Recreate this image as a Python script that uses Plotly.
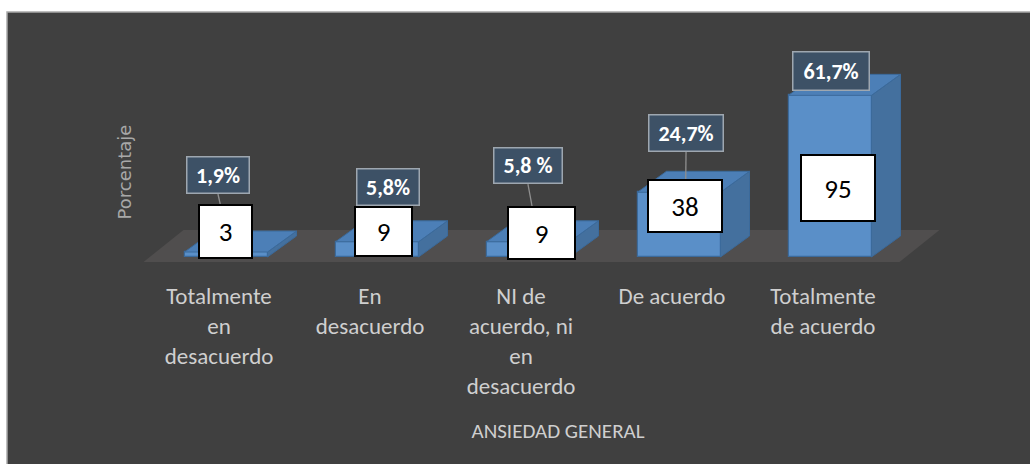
import plotly.graph_objects as go

# ---------------- data ----------------
categories = ["Totalmente<br>en<br>desacuerdo", "En<br>desacuerdo",
              "NI de<br>acuerdo, ni<br>en<br>desacuerdo", "De acuerdo",
              "Totalmente<br>de acuerdo"]
percent = [1.9, 5.8, 5.8, 24.7, 61.7]
percent_text = ["1,9%", "5,8%", "5,8 %", "24,7%", "61,7%"]
counts = [3, 9, 9, 38, 95]
x_title = "ANSIEDAD GENERAL"
y_title = "Porcentaje"

# ---------------- layout / style ----------------
W, H = 1030, 464
L, R, T, B = 140, 976, 70, 274           # plot area in pixels
CAT0_PX, CAT_STEP = 219.0, 151.0          # pixel of first category, spacing
BASE_PX, PX_PER_PCT = 257.0, 2.62         # pixel of 0 %, pixels per %
x_range = [(L - CAT0_PX) / CAT_STEP, (R - CAT0_PX) / CAT_STEP]
y_range = [(BASE_PX - B) / PX_PER_PCT, (BASE_PX - T) / PX_PER_PCT]
ux = 1.0 / CAT_STEP      # data units per pixel (x)
uy = 1.0 / PX_PER_PCT    # data units per pixel (y)

BAR_W = 83 * ux
BAR_SHIFT = 7 * ux
DEPTH_X, DEPTH_Y = 29 * ux, 21 * uy

FRONT, SIDE, TOP, EDGE = "#5a8fc8", "#44709e", "#4c7fb7", "#3b6a9b"
FLOOR = "#504e4e"
PANEL = "#404040"
FONT = "Calibri, Carlito, Lato, sans-serif"

# label placement (offsets in axis units) and box sizes (pixels)
count_dx = [0.043, 0.089, 0.136, 0.086, 0.099]
count_y = [9.73, 9.73, 9.16, 19.47, 26.34]
count_size = [(55, 55), (59, 51), (69, 54), (76, 54), (76, 68)]
pct_dx = [-0.007, 0.119, 0.046, 0.093, 0.053]
pct_y = [31.3, 26.72, 34.92, 47.33, 70.99]
pct_size = [(64, 38), (64, 38), (70, 37), (76, 38), (78, 40)]
leader = [True, False, True, True, False]

n = len(categories)
xs = list(range(n))
fig = go.Figure()

# front faces
fig.add_trace(go.Bar(
    x=xs, y=percent, width=BAR_W, offset=-BAR_W / 2 + BAR_SHIFT,
    marker=dict(color=FRONT, line=dict(color=EDGE, width=1.2)),
    hoverinfo="skip", showlegend=False))

# side and top faces
sx, sy, tx, ty = [], [], [], []
for i, v in enumerate(percent):
    xl = i + BAR_SHIFT - BAR_W / 2
    xr = i + BAR_SHIFT + BAR_W / 2
    sx += [xr, xr + DEPTH_X, xr + DEPTH_X, xr, xr, None]
    sy += [0, DEPTH_Y, v + DEPTH_Y, v, 0, None]
    tx += [xl, xr, xr + DEPTH_X, xl + DEPTH_X, xl, None]
    ty += [v, v, v + DEPTH_Y, v + DEPTH_Y, v, None]
fig.add_trace(go.Scatter(x=sx, y=sy, mode="lines", fill="toself",
                         fillcolor=SIDE, line=dict(color=EDGE, width=1),
                         hoverinfo="skip", showlegend=False))
fig.add_trace(go.Scatter(x=tx, y=ty, mode="lines", fill="toself",
                         fillcolor=TOP, line=dict(color=EDGE, width=1),
                         hoverinfo="skip", showlegend=False))

shapes = []
# panel
def px2paper(px, py):
    return (px - L) / (R - L), (B - py) / (B - T)
p0 = px2paper(7, 12)
p1 = px2paper(W + 2, H + 2)
shapes.append(dict(type="rect", xref="paper", yref="paper", layer="below",
                   x0=p0[0], y0=p1[1], x1=p1[0], y1=p0[1],
                   fillcolor=PANEL, line=dict(color="#a9a9a9", width=1.5)))
# floor
fl = -0.5
fr = n - 1 + 0.5 + 1 * ux
fy0 = -5 * uy
fdx, fdy = 40 * ux, 32 * uy
shapes.append(dict(type="path", xref="x", yref="y", layer="below",
                   path=f"M{fl},{fy0} L{fr},{fy0} L{fr + fdx},{fy0 + fdy} L{fl + fdx},{fy0 + fdy} Z",
                   fillcolor=FLOOR, line=dict(width=0)))

annotations = []
for i in range(n):
    cw, ch = count_size[i]
    pw, ph = pct_size[i]
    cx, cy = i + count_dx[i], count_y[i]
    px_, py_ = i + pct_dx[i], pct_y[i]
    if leader[i]:
        shapes.append(dict(type="line", xref="x", yref="y", layer="above",
                           x0=px_, y0=py_ - ph / 2 * uy,
                           x1=px_ + (cx - px_) * 0.3, y1=cy + ch / 2 * uy,
                           line=dict(color="#8f8f8f", width=1.3)))
    annotations.append(dict(
        x=cx, y=cy, xref="x", yref="y", text=str(counts[i]), showarrow=False,
        width=cw - 4, height=ch - 4, borderpad=0, borderwidth=2,
        bgcolor="white", bordercolor="black",
        font=dict(family=FONT, size=27, color="black")))
    annotations.append(dict(
        x=px_, y=py_, xref="x", yref="y", text=f"<b>{percent_text[i]}</b>",
        showarrow=False, width=pw - 3, height=ph - 3, borderpad=0,
        borderwidth=1.5, bgcolor="#3d5166", bordercolor="#9ea7b0",
        font=dict(family=FONT, size=22, color="white")))

fig.update_layout(
    width=W, height=H,
    margin=dict(l=L, r=W - R, t=T, b=H - B, pad=0),
    paper_bgcolor="white", plot_bgcolor="rgba(0,0,0,0)",
    shapes=shapes, annotations=annotations, bargap=0,
    xaxis=dict(range=x_range, tickvals=xs, ticktext=categories,
               showgrid=False, zeroline=False, showline=False, ticks="",
               tickfont=dict(family=FONT, size=23, color="#cfcfcf"),
               ticklabelstandoff=6, automargin=False,
               title=dict(text=x_title, standoff=24,
                          font=dict(family=FONT, size=21, color="#cfcfcf"))),
    yaxis=dict(range=y_range, showgrid=False, zeroline=False, showline=False,
               showticklabels=False, ticks="", automargin=False,
               title=dict(text=y_title, standoff=2,
                          font=dict(family="DejaVu Sans", size=18, color="#a8a8a8"))),
)

fig.write_html("out.html", config={"displayModeBar": False},
               post_script="document.body.style.margin='0';document.body.style.overflow='hidden';")
